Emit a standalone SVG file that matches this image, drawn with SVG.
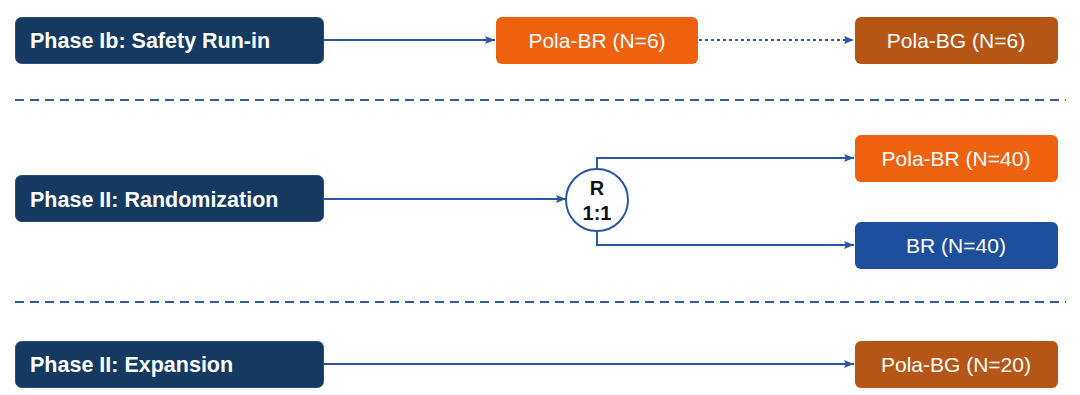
<svg xmlns="http://www.w3.org/2000/svg" width="1080" height="395" viewBox="0 0 1080 395">
<style>
.phase{fill:#143A62;stroke:#2a4f7a;stroke-width:1}
.pt{font-family:"Liberation Sans",Arial,sans-serif;font-weight:bold;font-size:21.5px;fill:#ffffff}
.arm{font-family:"Liberation Sans",Arial,sans-serif;font-size:21px;fill:#ffffff;text-anchor:middle}
.ln{stroke:#2A56A6;stroke-width:2;fill:none}
.sep{stroke:#2F5BA8;stroke-width:2;stroke-dasharray:9,6;fill:none}
.rt{font-family:"Liberation Sans",Arial,sans-serif;font-weight:bold;font-size:20px;fill:#111111;text-anchor:middle}
</style>
<defs>
<marker id="ah" markerWidth="10" markerHeight="8" refX="10" refY="4" orient="auto" markerUnits="userSpaceOnUse">
<path d="M0,0 L10,4 L0,8 L2,4 Z" fill="#2A56A6"/>
</marker>
</defs>
<rect width="1080" height="395" fill="#ffffff"/>
<g id="separators">
<line class="sep" x1="15" y1="100" x2="1066" y2="100"/>
<line class="sep" x1="15" y1="302" x2="1066" y2="302"/>
</g>
<g id="connectors">
<line class="ln" x1="324" y1="40" x2="495" y2="40" marker-end="url(#ah)"/>
<line class="ln" x1="699" y1="40" x2="854" y2="40" stroke-dasharray="3,3" marker-end="url(#ah)"/>
<line class="ln" x1="324" y1="199" x2="566" y2="199" marker-end="url(#ah)"/>
<polyline class="ln" points="597,169 597,158 854,158" marker-end="url(#ah)"/>
<polyline class="ln" points="597,231 597,245 854,245" marker-end="url(#ah)"/>
<line class="ln" x1="324" y1="364" x2="854" y2="364" marker-end="url(#ah)"/>
</g>
<g id="phase-ib">
<rect class="phase" x="15.5" y="17.5" width="308" height="46" rx="6"/>
<text class="pt" x="30" y="48">Phase Ib: Safety Run-in</text>
</g>
<g id="pola-br-6">
<rect x="496" y="17" width="202" height="47" rx="6" fill="#EE620F"/>
<text class="arm" x="597" y="48">Pola-BR (N=6)</text>
</g>
<g id="pola-bg-6">
<rect x="855" y="17" width="203" height="47" rx="6" fill="#B55617"/>
<text class="arm" x="956" y="48">Pola-BG (N=6)</text>
</g>
<g id="phase-ii-rand">
<rect class="phase" x="15.5" y="175.5" width="308" height="46" rx="6"/>
<text class="pt" x="30" y="207">Phase II: Randomization</text>
</g>
<g id="randomizer">
<circle cx="597" cy="200" r="31" fill="#ffffff" stroke="#2A56A6" stroke-width="2"/>
<text class="rt" x="597" y="195">R</text>
<text class="rt" x="597" y="220">1:1</text>
</g>
<g id="pola-br-40">
<rect x="855" y="135" width="203" height="47" rx="6" fill="#EE620F"/>
<text class="arm" x="956" y="166">Pola-BR (N=40)</text>
</g>
<g id="br-40">
<rect x="855" y="222" width="203" height="47" rx="6" fill="#1E4F9C"/>
<text class="arm" x="956" y="253">BR (N=40)</text>
</g>
<g id="phase-ii-exp">
<rect class="phase" x="15.5" y="341.5" width="308" height="46" rx="6"/>
<text class="pt" x="30" y="372">Phase II: Expansion</text>
</g>
<g id="pola-bg-20">
<rect x="855" y="341" width="203" height="47" rx="6" fill="#B55617"/>
<text class="arm" x="956" y="372">Pola-BG (N=20)</text>
</g>
</svg>
